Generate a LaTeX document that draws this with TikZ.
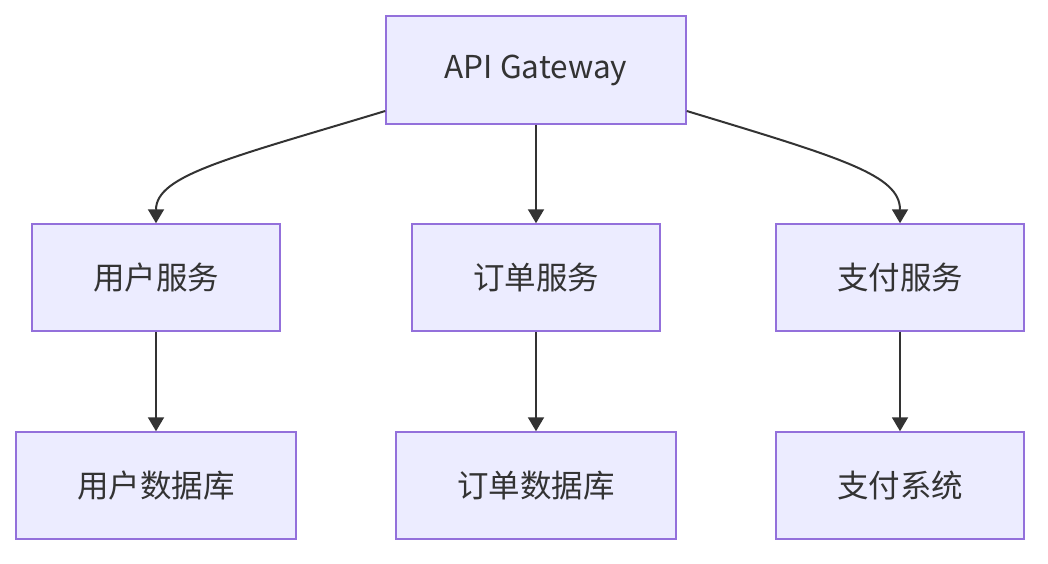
\documentclass[tikz,border=0pt]{standalone}
\usepackage{fontspec}
\setmainfont{Noto Sans CJK SC}
\usetikzlibrary{arrows.meta}
\definecolor{boxfill}{HTML}{ECECFF}
\definecolor{boxline}{HTML}{9370DB}
\definecolor{ink}{HTML}{333333}
\begin{document}
\begin{tikzpicture}[x=1pt,y=-1pt,
  box/.style={draw=boxline,fill=boxfill,line width=1.5pt,inner sep=0pt,text=ink,font=\fontsize{31.5}{36}\selectfont},
  link/.style={draw=ink,line width=2pt,-{Triangle[length=14pt,width=16pt]}}]
\useasboundingbox (0,0) rectangle (1048,564);
\node[box,minimum width=300pt,minimum height=108pt] (gw) at (536,70) {API Gateway};
\node[box,minimum width=248pt,minimum height=107pt] (us) at (156,277.5) {用户服务};
\node[box,minimum width=248pt,minimum height=107pt] (os) at (536,277.5) {订单服务};
\node[box,minimum width=248pt,minimum height=107pt] (ps) at (900,277.5) {支付服务};
\node[box,minimum width=280pt,minimum height=107pt] (udb) at (156,485.5) {用户数据库};
\node[box,minimum width=280pt,minimum height=107pt] (odb) at (536,485.5) {订单数据库};
\node[box,minimum width=248pt,minimum height=107pt] (psys) at (900,485.5) {支付系统};
\draw[link] (gw.west |- 0,111) .. controls (230,158) and (156,175) .. (us.north);
\draw[link] (gw.east |- 0,111) .. controls (842,158) and (900,175) .. (ps.north);
\draw[link] (gw.south) -- (os.north);
\draw[link] (us.south) -- (udb.north);
\draw[link] (os.south) -- (odb.north);
\draw[link] (ps.south) -- (psys.north);
\end{tikzpicture}
\end{document}
